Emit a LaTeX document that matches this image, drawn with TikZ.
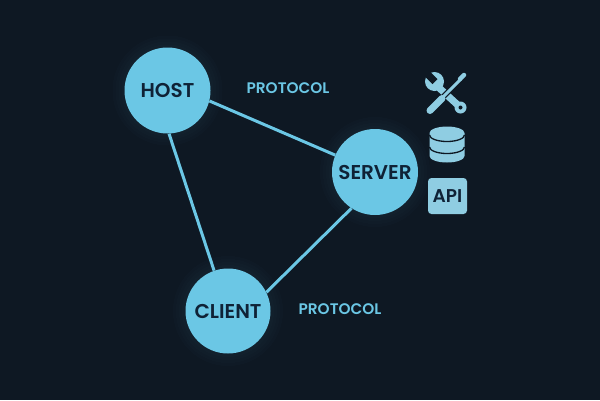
\documentclass[tikz,border=0pt]{standalone}
\usepackage{fontspec}
\setmainfont{Poppins}[BoldFont=Poppins SemiBold]
\definecolor{bgdark}{HTML}{0E1823}
\definecolor{skyblue}{HTML}{6BC7E5}
\definecolor{iconblue}{HTML}{8FCDE2}
\definecolor{inkdark}{HTML}{0F2236}
\tikzset{
  agent/.style={circle,fill=skyblue,minimum size=86pt,inner sep=0pt,text=inkdark,font=\fontsize{20}{20}\selectfont\bfseries},
  link/.style={draw=skyblue,line width=3pt},
  tag/.style={text=skyblue,font=\fontsize{15.3}{16}\selectfont\bfseries},
  halo/.style={circle,fill=skyblue,opacity=0.015,inner sep=0pt},
}
\begin{document}
\begin{tikzpicture}[x=1pt,y=-1pt]
    \useasboundingbox[fill=bgdark] (0,0) rectangle (600,400);
    % soft glow behind the circles
    \foreach \r in {92,98,104,110}{
      \node[halo,minimum size=\r pt] at (167.5,90.5) {};
      \node[halo,minimum size=\r pt] at (375,172) {};
      \node[halo,minimum size=\r pt] at (228,311) {};
    }
    \node[agent] (host) at (167.5,90.5) {HOST};
    \node[agent] (server) at (375,172) {SERVER};
    \node[agent,minimum size=85pt] (client) at (228,311) {CLIENT};
    \draw[link] (host.-14) -- (server.157);
    \draw[link] (host.-88) -- (client.109);
    \draw[link] (server.237) -- (client.26);
    \node[tag] (protoa) at (288,88) {PROTOCOL};
    \node[tag] (protob) at (340,309) {PROTOCOL};
    % wrench
    \draw[iconblue,line width=7pt] (436,85) -- (460.5,107.5);
    \fill[iconblue] (434.5,81.5) circle (9.5pt);
    \fill[bgdark] (432.5,84) -- (437.5,79) -- (423.5,65) -- (418.5,70) -- cycle;
    \fill[iconblue] (460.5,107.5) circle (6pt);
    \fill[bgdark] (460.5,107.5) circle (2pt);
    % screwdriver
    \draw[bgdark,line width=5.5pt] (442,98) -- (461,79);
    \draw[iconblue,line width=3pt] (442,98) -- (461,79);
    \draw[iconblue,line width=4.5pt,line cap=round] (460,79) -- (464,75);
    \draw[bgdark,line width=9.5pt] (430,110.5) -- (443,97.5);
    \draw[iconblue,line width=7pt,line cap=round] (430,110.5) -- (442,98.5);
    % database
    \fill[iconblue] (429.5,133) -- (429.5,156) arc[start angle=180,end angle=360,x radius=17.5pt,y radius=6.5pt]
      -- (464.5,133) arc[start angle=0,end angle=180,x radius=17.5pt,y radius=6.5pt] -- cycle;
    \draw[bgdark,line width=1.3pt] (429.5,135) arc[start angle=180,end angle=360,x radius=17.5pt,y radius=6.5pt];
    \draw[bgdark,line width=1.3pt] (429.5,147) arc[start angle=180,end angle=360,x radius=17.5pt,y radius=6.5pt];
    % api box
    \node[fill=iconblue,rounded corners=3.5pt,minimum width=39pt,minimum height=36pt,inner sep=0pt,text=inkdark,
      font=\fontsize{18.5}{19}\selectfont\bfseries] (api) at (447.5,196) {API};
\end{tikzpicture}
\end{document}
